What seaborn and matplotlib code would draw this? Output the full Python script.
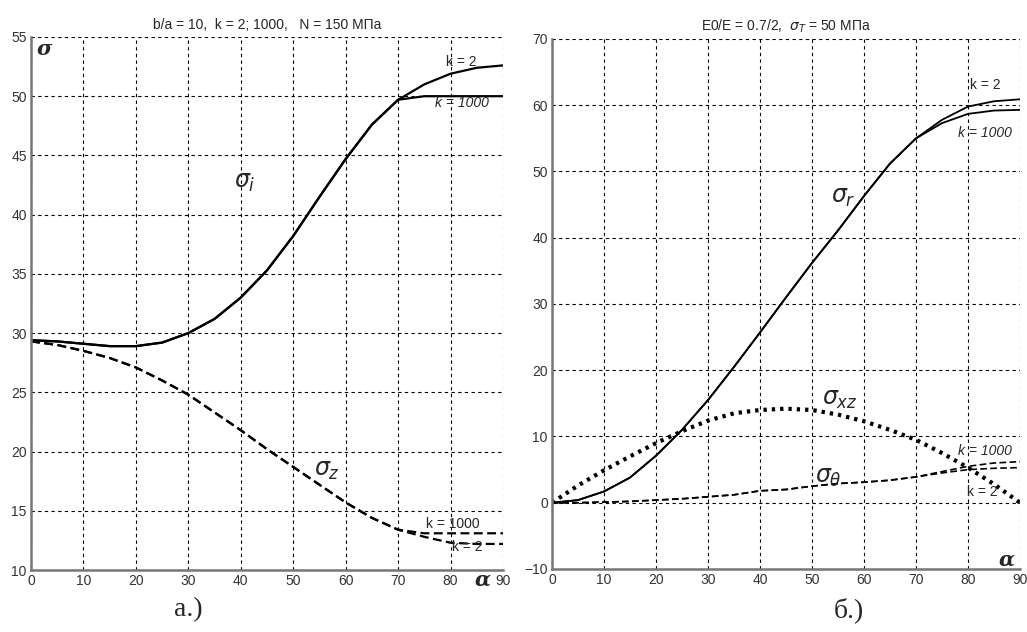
"""Stress curves vs angle alpha, two panels (a, b)."""

import matplotlib
matplotlib.use('Agg')
import matplotlib.pyplot as plt
import seaborn as sns
import numpy as np

sns.set_style('white')
plt.rcParams['font.family'] = ['Liberation Sans', 'DejaVu Sans']

# ---- data: panel a ----
alpha = [0, 5, 10, 15, 20, 25, 30, 35, 40, 45, 50, 55, 60, 65, 70, 75, 80, 85, 90]
sig_i_k2 = [29.4, 29.3, 29.1, 28.9, 28.9, 29.2, 30.0, 31.2, 33.0, 35.3, 38.2, 41.5, 44.7,
            47.6, 49.7, 51.0, 51.9, 52.4, 52.6]
sig_i_k1000 = [29.4, 29.3, 29.1, 28.9, 28.9, 29.2, 30.0, 31.2, 33.0, 35.3, 38.2, 41.5, 44.7,
               47.6, 49.7, 50.0, 50.0, 50.0, 50.0]
sig_z_k2 = [29.3, 29.0, 28.5, 27.9, 27.1, 26.0, 24.8, 23.3, 21.8, 20.2, 18.7, 17.2, 15.7,
            14.4, 13.4, 12.8, 12.3, 12.2, 12.2]
sig_z_k1000 = [29.3, 29.0, 28.5, 27.9, 27.1, 26.0, 24.8, 23.3, 21.8, 20.2, 18.7, 17.2, 15.7,
               14.4, 13.4, 13.1, 13.1, 13.1, 13.1]

# ---- data: panel b ----
sig_r_k2 = [0.0, 0.4, 1.7, 3.8, 7.1, 11.0, 15.5, 20.5, 25.7, 31.0, 36.2, 41.1, 46.3,
            51.2, 55.0, 57.8, 59.8, 60.6, 60.9]
sig_r_k1000 = [0.0, 0.4, 1.7, 3.8, 7.1, 11.0, 15.5, 20.5, 25.7, 31.0, 36.2, 41.1, 46.3,
               51.2, 55.0, 57.3, 58.7, 59.2, 59.3]
sig_xz = [0.0, 2.6, 4.9, 7.0, 9.0, 10.8, 12.4, 13.5, 14.0, 14.2, 14.0, 13.3, 12.3,
          11.0, 9.5, 7.5, 5.3, 2.8, 0.0]
sig_t_k2 = [0.0, 0.0, 0.1, 0.2, 0.4, 0.6, 0.9, 1.2, 1.8, 2.0, 2.5, 2.9, 3.1,
            3.4, 3.9, 4.5, 5.0, 5.2, 5.3]
sig_t_k1000 = [0.0, 0.0, 0.1, 0.2, 0.4, 0.6, 0.9, 1.2, 1.8, 2.0, 2.5, 2.9, 3.1,
               3.4, 3.9, 4.7, 5.5, 6.0, 6.2]

title_a = 'b/a = 10,  k = 2; 1000,   N = 150 МПа'
title_b = r'E0/E = 0.7/2,  $\sigma_T$ = 50 МПа'


def style_axes(ax, ylim, ystep):
    ax.set_xlim(0, 90)
    ax.set_ylim(*ylim)
    ax.set_xticks(np.arange(0, 91, 10))
    ax.set_yticks(np.arange(ylim[0], ylim[1] + 1, ystep))
    ax.grid(True, color='black', linestyle=(0, (3, 3)), linewidth=0.8)
    for side in ['top', 'right']:
        ax.spines[side].set_visible(False)
    for side in ['left', 'bottom']:
        ax.spines[side].set_color('#777777')
        ax.spines[side].set_linewidth(1.8)
    ax.tick_params(length=0, labelsize=10, labelcolor='#333333', pad=3)
    ax.set_xlabel('')
    ax.set_ylabel('')


fig = plt.figure(figsize=(10.27, 6.32), dpi=100)
ax1 = fig.add_axes([0.0302, 0.0981, 0.4596, 0.8434])
ax2 = fig.add_axes([0.5375, 0.0997, 0.4557, 0.8386])

dash = (0, (4, 2))
dot = (0, (0.8, 1.2))

# panel a
sns.lineplot(x=alpha, y=sig_i_k2, ax=ax1, color='black', linewidth=1.6)
sns.lineplot(x=alpha, y=sig_i_k1000, ax=ax1, color='black', linewidth=1.6)
sns.lineplot(x=alpha, y=sig_z_k2, ax=ax1, color='black', linewidth=1.6, linestyle=dash)
sns.lineplot(x=alpha, y=sig_z_k1000, ax=ax1, color='black', linewidth=1.6, linestyle=dash)
style_axes(ax1, (10, 55), 5)
ax1.set_title(title_a, fontsize=10, pad=6)

ax1.text(1.0, 54.0, 'σ', fontsize=15, fontweight='bold',
         fontstyle='italic', family=['DejaVu Serif'], va='center')
ax1.text(40.8, 42.7, r'$\sigma_i$', fontsize=17, ha='center', va='center')
ax1.text(82.0, 52.9, 'k = 2', fontsize=10, ha='center', va='center')
ax1.text(82.2, 49.4, 'k = 1000', fontsize=10, ha='center', va='center', fontstyle='italic')
ax1.text(56.4, 18.4, r'$\sigma_z$', fontsize=17, ha='center', va='center')
ax1.text(80.5, 13.9, 'k = 1000', fontsize=10, ha='center', va='center')
ax1.text(83.1, 11.9, 'k = 2', fontsize=10, ha='center', va='center')
ax1.text(86.2, 9.2, 'α', fontsize=15, fontweight='bold', fontstyle='italic',
         family=['DejaVu Serif'], ha='center', va='center', clip_on=False)

# panel b
sns.lineplot(x=alpha, y=sig_r_k2, ax=ax2, color='black', linewidth=1.3)
sns.lineplot(x=alpha, y=sig_r_k1000, ax=ax2, color='black', linewidth=1.3)
sns.lineplot(x=alpha, y=sig_xz, ax=ax2, color='black', linewidth=3.0, linestyle=dot)
sns.lineplot(x=alpha, y=sig_t_k2, ax=ax2, color='black', linewidth=1.2, linestyle=dash)
sns.lineplot(x=alpha, y=sig_t_k1000, ax=ax2, color='black', linewidth=1.2, linestyle=dash)
style_axes(ax2, (-10, 70), 10)
ax2.set_title(title_b, fontsize=10, pad=6)

ax2.text(83.3, 63.0, 'k = 2', fontsize=10, ha='center', va='center')
ax2.text(83.3, 55.8, 'k = 1000', fontsize=10, ha='center', va='center', fontstyle='italic')
ax2.text(56.0, 46.0, r'$\sigma_r$', fontsize=17, ha='center', va='center')
ax2.text(55.4, 15.5, r'$\sigma_{xz}$', fontsize=17, ha='center', va='center')
ax2.text(83.3, 7.8, 'k = 1000', fontsize=10, ha='center', va='center', fontstyle='italic')
ax2.text(53.1, 3.8, r'$\sigma_\theta$', fontsize=17, ha='center', va='center')
ax2.text(82.7, 1.6, 'k = 2', fontsize=10, ha='center', va='center')
ax2.text(87.5, -8.6, 'α', fontsize=15, fontweight='bold', fontstyle='italic',
         family=['DejaVu Serif'], ha='center', va='center')

# panel captions
fig.text(188 / 1027, 1 - 610 / 632, 'а.)', fontsize=20, family=['Liberation Serif'],
         ha='center', va='center')
fig.text(849 / 1027, 1 - 610 / 632, 'б.)', fontsize=20, family=['Liberation Serif'],
         ha='center', va='center')

fig.savefig('out.png', dpi=100)
plt.close(fig)
